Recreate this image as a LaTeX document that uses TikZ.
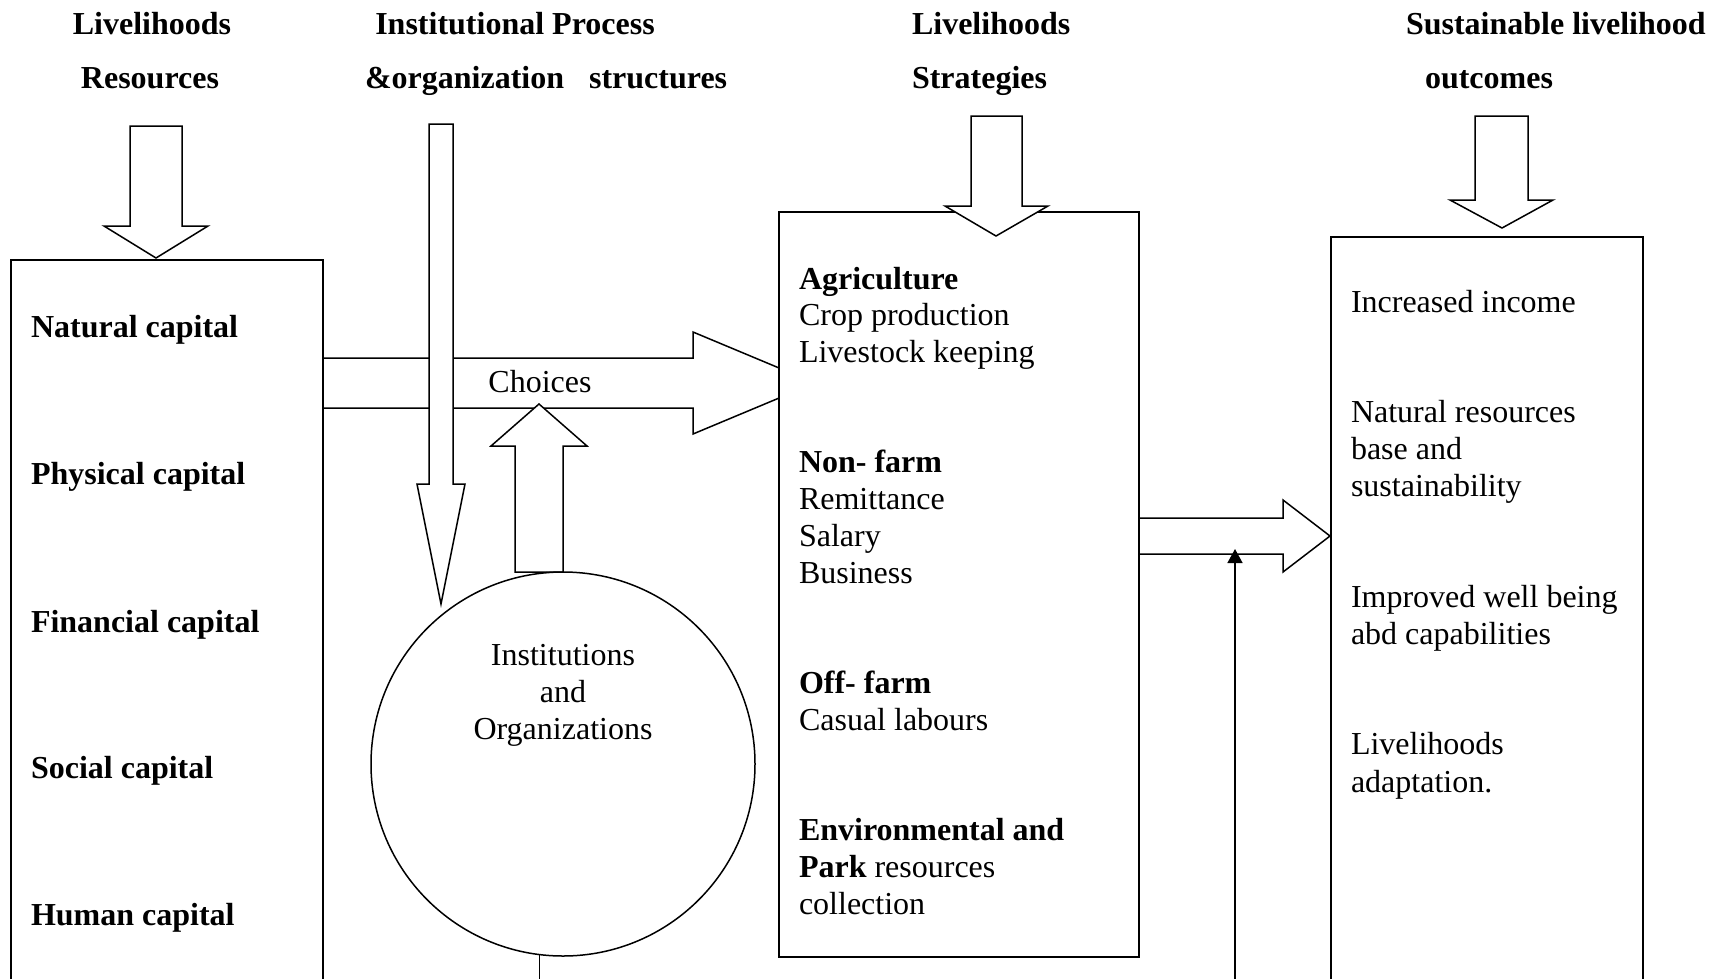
\documentclass[tikz,border=0pt]{standalone}
\usepackage{fontspec}
\setmainfont{Liberation Serif}
\usetikzlibrary{arrows.meta}
\begin{document}
\begin{tikzpicture}[x=1pt,y=-1pt,
  every node/.style={inner sep=0pt, outer sep=0pt},
  txt/.style={anchor=base west, font=\fontsize{32}{37}\selectfont},
  btxt/.style={anchor=base west, font=\fontsize{32}{37}\selectfont\bfseries},
  ctxt/.style={anchor=base, font=\fontsize{32}{37}\selectfont},
  bctxt/.style={anchor=base, font=\fontsize{32}{37}\selectfont\bfseries},
  blockarrow/.style={draw, fill=white, line width=1.5pt, line join=miter},
  panel/.style={draw, fill=white, line width=1.7pt, rectangle, anchor=north west},
  thinline/.style={line width=1.5pt}]
\useasboundingbox (0,0) rectangle (1720,978);
\clip (0,0) rectangle (1720,978);

% titles
\node[bctxt] (t1a) at (152,34) {Livelihoods};
\node[bctxt] (t1b) at (150,88) {Resources};
\node[bctxt] (t2a) at (515,34) {Institutional Process};
\node[btxt] (t2b) at (365,88) {\&organization\hspace{17pt} structures};
\node[btxt] (t3a) at (912,34) {Livelihoods};
\node[btxt] (t3b) at (912,88) {Strategies};
\node[btxt] (t4a) at (1406,34) {Sustainable livelihood};
\node[btxt] (t4b) at (1425,88) {outcomes};

% choices block arrow (open at its left end, against the resources box)
\draw[blockarrow] (324,358) -- (693,358) -- (693,332) -- (815,383) -- (693,434) -- (693,408) -- (324,408);
% institutional process arrow
\draw[blockarrow] (429,124) -- (453,124) -- (453,484) -- (465,484) -- (441,604) -- (417,484) -- (429,484) -- cycle;
% up arrow from institutions to choices
\draw[blockarrow] (515,572) -- (563,572) -- (563,446) -- (587,446) -- (539,404) -- (491,446) -- (515,446) -- cycle;
\node[ctxt] (choices) at (540,392) {Choices};

% boxes
\node[panel, minimum width=312pt, minimum height=760pt] (res) at (11,260) {};
\node[panel, minimum width=360pt, minimum height=745pt] (strat) at (779,212) {};
\node[panel, minimum width=312pt, minimum height=780pt] (out) at (1331,237) {};
\node[draw, circle, line width=1.5pt, minimum size=384pt] (inst) at (563,764) {};

% down arrows into boxes
\draw[blockarrow] (130,126) -- (182,126) -- (182,226) -- (208,226) -- (156,258) -- (104,226) -- (130,226) -- cycle;
\draw[blockarrow] (971,116) -- (1022,116) -- (1022,206) -- (1048,206) -- (996,236) -- (945,206) -- (971,206) -- cycle;
\draw[blockarrow] (1475,116) -- (1528,116) -- (1528,200) -- (1553,200) -- (1502,228) -- (1450,200) -- (1475,200) -- cycle;

% strategies to outcomes block arrow (open at its left end)
\draw[blockarrow] (1140,518) -- (1283,518) -- (1283,500) -- (1330,536) -- (1283,572) -- (1283,554) -- (1140,554);

% thin arrow and line from circle
\coordinate (bot) at (0,1000);
\coordinate (fb) at (1235,1000);
\coordinate (ft) at (1235,549);
\draw[thinline, -{Triangle[length=14pt,width=15pt]}] (fb) -- (ft);
\draw[thinline] (inst.-97.2) -- (inst.-97.2 |- bot);

% capitals
\node[btxt] (c1) at (31,337) {Natural capital};
\node[btxt] (c2) at (31,484) {Physical capital};
\node[btxt] (c3) at (31,632) {Financial capital};
\node[btxt] (c4) at (31,778) {Social capital};
\node[btxt] (c5) at (31,925) {Human capital};

% institutions text
\node[ctxt] (i1) at (563,665) {Institutions};
\node[ctxt] (i2) at (563,702) {and};
\node[ctxt] (i3) at (563,739) {Organizations};

% strategies text
\node[btxt] (s1) at (799,289) {Agriculture};
\node[txt] (s2) at (799,325) {Crop production};
\node[txt] (s3) at (799,362) {Livestock keeping};
\node[btxt] (s4) at (799,472) {Non- farm};
\node[txt] (s5) at (799,509) {Remittance};
\node[txt] (s6) at (799,546) {Salary};
\node[txt] (s7) at (799,583) {Business};
\node[btxt] (s8) at (799,693) {Off- farm};
\node[txt] (s9) at (799,730) {Casual labours};
\node[btxt] (s10) at (799,840) {Environmental and};
\node[txt] (s11) at (799,877) {\textbf{Park} resources};
\node[txt] (s12) at (799,914) {collection};

% outcomes text
\node[txt] (o1) at (1351,312) {Increased income};
\node[txt] (o2) at (1351,422) {Natural resources};
\node[txt] (o3) at (1351,459) {base and};
\node[txt] (o4) at (1351,496) {sustainability};
\node[txt] (o5) at (1351,607) {Improved well being};
\node[txt] (o6) at (1351,644) {abd capabilities};
\node[txt] (o7) at (1351,754) {Livelihoods};
\node[txt] (o8) at (1351,792) {adaptation.};
\end{tikzpicture}
\end{document}
